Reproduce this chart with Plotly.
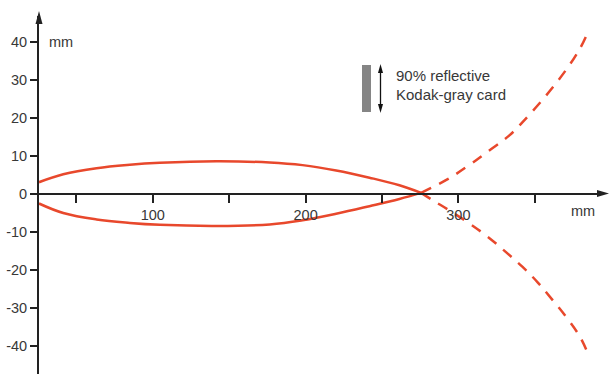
import plotly.graph_objects as go

# ---- data (mm) ----
solid_x = [25.5, 41.4, 63.2, 85, 104.6, 141.6, 176.5, 198, 220, 241.8, 261.4, 275.6]
solid_upper = [3.1, 5.2, 6.8, 7.7, 8.2, 8.6, 8.3, 7.6, 6.2, 4.3, 2.3, 0.3]
solid_lower = [-2.5, -5.0, -6.7, -7.6, -8.1, -8.4, -8.0, -6.9, -5.2, -3.2, -1.3, 0.3]

dash_up_x = [275.6, 293, 307, 320, 333, 342, 364, 379, 385.6]
dash_up_y = [0.3, 3.9, 7.6, 11.4, 15.3, 18.9, 29.2, 37.9, 43.4]
dash_lo_x = [275.6, 283, 294, 307, 319, 330, 342, 352, 361, 371, 380, 385.6]
dash_lo_y = [0.3, -1.6, -4.3, -7.7, -11.2, -14.9, -19.2, -23.3, -27.6, -32.6, -37.9, -42.9]

x_tickvals = [50, 100, 150, 200, 250, 300, 350]
x_ticktext = ["", "100", "", "200", "", "300", ""]
y_tickvals = [-40, -30, -20, -10, 0, 10, 20, 30, 40]
y_ticktext = ["-40", "-30", "-20", "-10", "0", "10", "20", "30", "40"]

legend_lines = ["90% reflective", "Kodak-gray card"]
unit = "mm"

W, H = 610, 374
RED = "#E8482C"
AX = "#222222"
TXT = "#383838"
FONT = "Liberation Sans, Arial, sans-serif"


def px(x):
    return x / W


def py(y):
    return 1 - y / H


fig = go.Figure()
line_solid = dict(color=RED, width=2.5, shape="spline", smoothing=1.1)
line_dash = dict(color=RED, width=2.5, shape="spline", smoothing=1.1, dash="11px,9px")
fig.add_trace(go.Scatter(x=solid_x, y=solid_upper, mode="lines", line=line_solid, hoverinfo="skip"))
fig.add_trace(go.Scatter(x=solid_x, y=solid_lower, mode="lines", line=line_solid, hoverinfo="skip"))
fig.add_trace(go.Scatter(x=dash_up_x, y=dash_up_y, mode="lines", line=line_dash, hoverinfo="skip"))
fig.add_trace(go.Scatter(x=dash_lo_x, y=dash_lo_y, mode="lines", line=line_dash, hoverinfo="skip"))

x0_px, x1_px = 39, 600
scale_x = 1.528
y_top_px = 16
scale_y = 3.8
y0_px = 194

fig.update_layout(
    width=W, height=H,
    margin=dict(l=0, r=0, t=0, b=0, autoexpand=False),
    paper_bgcolor="white", plot_bgcolor="white",
    showlegend=False,
    font=dict(family=FONT, color=TXT, size=14.5),
    xaxis=dict(
        domain=[px(x0_px), px(x1_px)],
        range=[x0_px / scale_x, x1_px / scale_x],
        anchor="free", position=py(y0_px),
        automargin=False,
        showgrid=False, zeroline=False,
        showline=True, linecolor=AX, linewidth=1.6,
        ticks="outside", ticklen=8, tickwidth=1.5, tickcolor=AX,
        tickvals=x_tickvals, ticktext=x_ticktext,
        tickfont=dict(family=FONT, size=14.5, color=TXT),
    ),
    yaxis=dict(
        domain=[0, py(y_top_px)],
        range=[(y0_px - H) / scale_y, (y0_px - y_top_px) / scale_y],
        anchor="x",
        automargin=False,
        showgrid=False, zeroline=False,
        showline=True, linecolor=AX, linewidth=2,
        ticks="outside", ticklen=7, tickwidth=1.5, tickcolor=AX,
        tickvals=y_tickvals, ticktext=y_ticktext,
        tickfont=dict(family=FONT, size=14.5, color=TXT),
    ),
)

shapes = []
# axis arrowheads
shapes.append(dict(type="path", xref="paper", yref="paper",
                   path=f"M {px(609)} {py(193.5)} L {px(597)} {py(190)} L {px(597)} {py(197)} Z",
                   fillcolor=AX, line=dict(width=0)))
shapes.append(dict(type="path", xref="paper", yref="paper",
                   path=f"M {px(39)} {py(11)} L {px(35.5)} {py(24)} L {px(42.5)} {py(24)} Z",
                   fillcolor=AX, line=dict(width=0)))
# legend: gray card
shapes.append(dict(type="rect", xref="paper", yref="paper",
                   x0=px(362), x1=px(371), y0=py(112), y1=py(65),
                   fillcolor="#858585", line=dict(width=0)))
# double arrow
shapes.append(dict(type="line", xref="paper", yref="paper",
                   x0=px(380.5), x1=px(380.5), y0=py(70), y1=py(107),
                   line=dict(color="#111", width=1.3)))
shapes.append(dict(type="path", xref="paper", yref="paper",
                   path=f"M {px(380.5)} {py(64)} L {px(378)} {py(73)} L {px(383)} {py(73)} Z",
                   fillcolor="#111", line=dict(width=0)))
shapes.append(dict(type="path", xref="paper", yref="paper",
                   path=f"M {px(380.5)} {py(113)} L {px(378)} {py(104)} L {px(383)} {py(104)} Z",
                   fillcolor="#111", line=dict(width=0)))
fig.update_layout(shapes=shapes)

annotations = [
    dict(text=legend_lines[0], x=px(394), y=py(75), xref="paper", yref="paper",
         xanchor="left", yanchor="middle", showarrow=False,
         font=dict(family=FONT, size=15, color=TXT)),
    dict(text=legend_lines[1], x=px(394), y=py(94.5), xref="paper", yref="paper",
         xanchor="left", yanchor="middle", showarrow=False,
         font=dict(family=FONT, size=15, color=TXT)),
    dict(text=unit, x=px(47), y=py(42), xref="paper", yref="paper",
         xanchor="left", yanchor="middle", showarrow=False,
         font=dict(family=FONT, size=14.5, color=TXT)),
    dict(text=unit, x=px(583), y=py(211), xref="paper", yref="paper",
         xanchor="center", yanchor="middle", showarrow=False,
         font=dict(family=FONT, size=14.5, color=TXT)),
]
fig.update_layout(annotations=annotations)

fig.write_html("out.html",
               config={"displayModeBar": False},
               post_script="document.body.style.margin='0';document.body.style.padding='0';")
